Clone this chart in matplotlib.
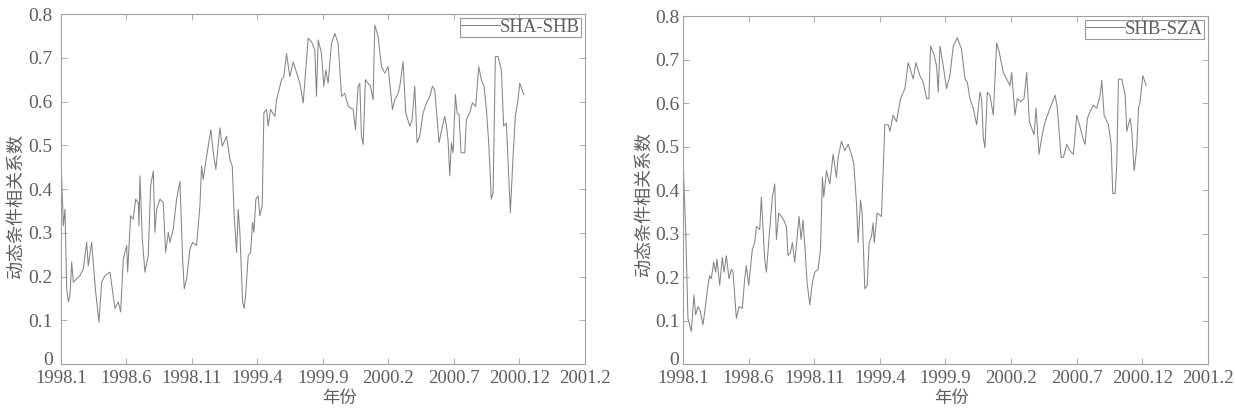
import matplotlib
matplotlib.use("Agg")
import matplotlib.pyplot as plt
from matplotlib.transforms import ScaledTranslation

plt.rcParams["font.family"] = ["Liberation Serif", "Noto Sans CJK SC"]

# tick labels (ticks are evenly spaced in the original figure)
tick_labels = ["1998.1", "1998.6", "1998.11", "1999.4", "1999.9",
               "2000.2", "2000.7", "2000.12", "2001.2"]
tick_pos = list(range(len(tick_labels)))

# SHA-SHB dynamic conditional correlation (x in tick units)
t1 = [0, 0.036, 0.061, 0.087, 0.112, 0.137, 0.163, 0.188, 0.239, 0.290, 0.341, 0.392,
      0.417, 0.468, 0.504, 0.529, 0.580, 0.621, 0.672, 0.748, 0.824, 0.875, 0.911, 0.952,
      1.003, 1.018, 1.064, 1.104, 1.140, 1.181, 1.191, 1.206, 1.242, 1.282, 1.333, 1.369,
      1.410, 1.435, 1.461, 1.511, 1.562, 1.598, 1.639, 1.664, 1.715, 1.766, 1.817, 1.858,
      1.883, 1.919, 1.969, 2.010, 2.071, 2.122, 2.148, 2.173, 2.224, 2.290, 2.326, 2.366,
      2.427, 2.463, 2.529, 2.580, 2.616, 2.646, 2.682, 2.707, 2.733, 2.774, 2.799, 2.824,
      2.860, 2.896, 2.926, 2.947, 2.977, 3.013, 3.038, 3.074, 3.099, 3.140, 3.165, 3.201,
      3.267, 3.293, 3.369, 3.405, 3.445, 3.496, 3.547, 3.649, 3.700, 3.776, 3.827, 3.878,
      3.903, 3.929, 3.980, 4.015, 4.046, 4.081, 4.132, 4.183, 4.234, 4.285, 4.336, 4.387,
      4.463, 4.499, 4.539, 4.565, 4.590, 4.616, 4.651, 4.692, 4.728, 4.768, 4.794, 4.845,
      4.895, 4.946, 4.997, 5.023, 5.064, 5.099, 5.150, 5.176, 5.226, 5.267, 5.328, 5.364,
      5.405, 5.440, 5.481, 5.532, 5.583, 5.634, 5.674, 5.710, 5.735, 5.776, 5.827, 5.863,
      5.888, 5.913, 5.939, 5.964, 5.990, 6.025, 6.051, 6.081, 6.112, 6.168, 6.193, 6.244,
      6.285, 6.336, 6.382, 6.422, 6.463, 6.499, 6.534, 6.575, 6.601, 6.636, 6.677, 6.728,
      6.763, 6.804, 6.865, 6.906, 6.941, 6.982, 7.008, 7.069]
dcc1 = [0.468, 0.316, 0.354, 0.172, 0.142, 0.157, 0.233, 0.187, 0.195, 0.202, 0.218, 0.278,
        0.225, 0.278, 0.210, 0.165, 0.096, 0.187, 0.202, 0.210, 0.127, 0.142, 0.119, 0.240,
        0.271, 0.210, 0.339, 0.331, 0.377, 0.369, 0.316, 0.430, 0.286, 0.210, 0.248, 0.407,
        0.441, 0.301, 0.354, 0.377, 0.369, 0.255, 0.301, 0.278, 0.309, 0.377, 0.418, 0.240,
        0.172, 0.195, 0.263, 0.278, 0.271, 0.362, 0.453, 0.422, 0.475, 0.536, 0.483, 0.445,
        0.540, 0.498, 0.521, 0.468, 0.453, 0.339, 0.255, 0.354, 0.301, 0.142, 0.127, 0.165,
        0.248, 0.255, 0.324, 0.301, 0.377, 0.384, 0.339, 0.362, 0.574, 0.582, 0.544, 0.582,
        0.566, 0.604, 0.650, 0.657, 0.710, 0.657, 0.691, 0.642, 0.597, 0.745, 0.737, 0.718,
        0.612, 0.741, 0.710, 0.635, 0.672, 0.642, 0.733, 0.756, 0.733, 0.612, 0.619, 0.589,
        0.582, 0.536, 0.635, 0.642, 0.521, 0.502, 0.650, 0.642, 0.635, 0.604, 0.775, 0.748,
        0.680, 0.665, 0.680, 0.642, 0.582, 0.604, 0.619, 0.635, 0.691, 0.574, 0.544, 0.559,
        0.635, 0.506, 0.521, 0.574, 0.597, 0.612, 0.635, 0.627, 0.582, 0.506, 0.544, 0.566,
        0.544, 0.513, 0.430, 0.506, 0.483, 0.616, 0.574, 0.570, 0.483, 0.483, 0.559, 0.574,
        0.597, 0.589, 0.680, 0.650, 0.635, 0.582, 0.506, 0.377, 0.392, 0.703, 0.703, 0.672,
        0.544, 0.551, 0.346, 0.475, 0.566, 0.604, 0.642, 0.616]

# SHB-SZA dynamic conditional correlation
t2 = [0, 0.041, 0.076, 0.127, 0.168, 0.193, 0.229, 0.264, 0.305, 0.346, 0.381, 0.407,
      0.432, 0.468, 0.498, 0.519, 0.560, 0.600, 0.626, 0.661, 0.702, 0.738, 0.763, 0.788,
      0.814, 0.855, 0.905, 0.941, 0.966, 1.002, 1.058, 1.094, 1.119, 1.170, 1.195, 1.221,
      1.246, 1.272, 1.322, 1.363, 1.399, 1.424, 1.460, 1.501, 1.536, 1.577, 1.602, 1.638,
      1.668, 1.704, 1.770, 1.801, 1.831, 1.867, 1.892, 1.933, 1.974, 2.009, 2.060, 2.096,
      2.126, 2.146, 2.187, 2.238, 2.289, 2.340, 2.365, 2.416, 2.467, 2.518, 2.569, 2.604,
      2.645, 2.670, 2.706, 2.731, 2.772, 2.808, 2.838, 2.874, 2.899, 2.915, 2.960, 3.026,
      3.077, 3.128, 3.154, 3.204, 3.255, 3.316, 3.383, 3.433, 3.510, 3.550, 3.611, 3.662,
      3.713, 3.749, 3.774, 3.825, 3.866, 3.891, 3.917, 3.967, 4.018, 4.069, 4.120, 4.181,
      4.247, 4.298, 4.334, 4.374, 4.425, 4.476, 4.527, 4.552, 4.578, 4.603, 4.639, 4.679,
      4.730, 4.781, 4.822, 4.883, 4.934, 4.985, 5.010, 5.061, 5.097, 5.148, 5.198, 5.239,
      5.280, 5.315, 5.351, 5.382, 5.427, 5.468, 5.519, 5.595, 5.672, 5.707, 5.763, 5.799,
      5.849, 5.900, 5.951, 6.002, 6.043, 6.094, 6.129, 6.165, 6.205, 6.256, 6.307, 6.358,
      6.384, 6.419, 6.485, 6.526, 6.551, 6.587, 6.612, 6.638, 6.689, 6.740, 6.765, 6.816,
      6.841, 6.877, 6.917, 6.943, 6.968, 7.009, 7.060]
dcc2 = [0.475, 0.309, 0.105, 0.075, 0.158, 0.113, 0.132, 0.121, 0.090, 0.136, 0.181, 0.203,
        0.196, 0.234, 0.211, 0.241, 0.181, 0.245, 0.211, 0.249, 0.196, 0.218, 0.211, 0.158,
        0.105, 0.132, 0.128, 0.196, 0.226, 0.181, 0.264, 0.279, 0.316, 0.309, 0.384, 0.309,
        0.241, 0.211, 0.309, 0.384, 0.414, 0.286, 0.347, 0.339, 0.331, 0.316, 0.249, 0.256,
        0.279, 0.234, 0.339, 0.286, 0.331, 0.249, 0.188, 0.136, 0.188, 0.211, 0.218, 0.264,
        0.429, 0.384, 0.444, 0.414, 0.482, 0.429, 0.475, 0.512, 0.490, 0.505, 0.482, 0.460,
        0.369, 0.279, 0.377, 0.347, 0.173, 0.181, 0.279, 0.294, 0.324, 0.279, 0.347, 0.339,
        0.550, 0.550, 0.535, 0.572, 0.557, 0.610, 0.633, 0.693, 0.655, 0.693, 0.663, 0.648,
        0.610, 0.610, 0.731, 0.712, 0.685, 0.625, 0.731, 0.685, 0.633, 0.663, 0.731, 0.750,
        0.723, 0.655, 0.648, 0.610, 0.588, 0.550, 0.625, 0.610, 0.520, 0.497, 0.625, 0.618,
        0.572, 0.738, 0.716, 0.670, 0.655, 0.640, 0.670, 0.572, 0.610, 0.603, 0.610, 0.670,
        0.557, 0.542, 0.527, 0.588, 0.482, 0.520, 0.557, 0.588, 0.618, 0.588, 0.475, 0.475,
        0.505, 0.490, 0.482, 0.572, 0.550, 0.520, 0.505, 0.565, 0.580, 0.595, 0.588, 0.618,
        0.652, 0.572, 0.550, 0.505, 0.392, 0.392, 0.460, 0.655, 0.655, 0.618, 0.535, 0.565,
        0.535, 0.444, 0.497, 0.588, 0.603, 0.663, 0.640]

series = [("SHA-SHB", t1, dcc1), ("SHB-SZA", t2, dcc2)]

text_color = "#5e5e5e"
line_color = "#858585"
frame_color = "#a0a0a0"

fig = plt.figure(figsize=(12.35, 4.16), dpi=100)
rects = [[0.0494, 0.125, 0.424, 0.841], [0.553, 0.125, 0.425, 0.8365]]
xlabel_pos = [(0.532, -0.077), (0.512, -0.078)]
ylabel_pos = [(-0.069, 0.452), (-0.057, 0.46)]
ytick_pad = [6, 2.5]

for i, (rect, (name, t, y)) in enumerate(zip(rects, series)):
    ax = fig.add_axes(rect)
    ax.plot(t, y, color=line_color, linewidth=0.75, label=name)
    ax.set_xlim(0, 8)
    ax.set_ylim(0, 0.8)
    ax.set_xticks(tick_pos)
    ax.set_xticklabels(tick_labels)
    ax.set_yticks([0, 0.1, 0.2, 0.3, 0.4, 0.5, 0.6, 0.7, 0.8])
    ax.set_yticklabels(["0", "0.1", "0.2", "0.3", "0.4", "0.5", "0.6", "0.7", "0.8"])
    ax.tick_params(direction="in", top=True, right=True, length=4, width=0.6,
                   color=frame_color, labelcolor=text_color, labelsize=14)
    ax.tick_params(axis="x", pad=4, labelsize=13.5)
    ax.tick_params(axis="y", pad=ytick_pad[i])
    # lift the "0" label a little so it clears the first date label
    zero = ax.get_yticklabels()[0]
    zero.set_transform(zero.get_transform() + ScaledTranslation(0, 4 / 72, fig.dpi_scale_trans))
    for sp in ax.spines.values():
        sp.set_color(frame_color)
        sp.set_linewidth(0.8)
    ax.set_xlabel("年份", fontsize=12.5, color=text_color)
    ax.xaxis.set_label_coords(*xlabel_pos[i])
    ax.set_ylabel("动态条件相关系数", fontsize=13, color=text_color)
    ax.yaxis.set_label_coords(*ylabel_pos[i])
    leg = ax.legend(loc="upper right", fontsize=13.5, frameon=True, fancybox=False,
                    handlelength=2.1, handletextpad=0.0, borderpad=0.05,
                    borderaxespad=0.2, labelcolor=text_color)
    leg.get_frame().set_edgecolor("#808080")
    leg.get_frame().set_linewidth(0.8)

fig.savefig("out.png", dpi=100)
